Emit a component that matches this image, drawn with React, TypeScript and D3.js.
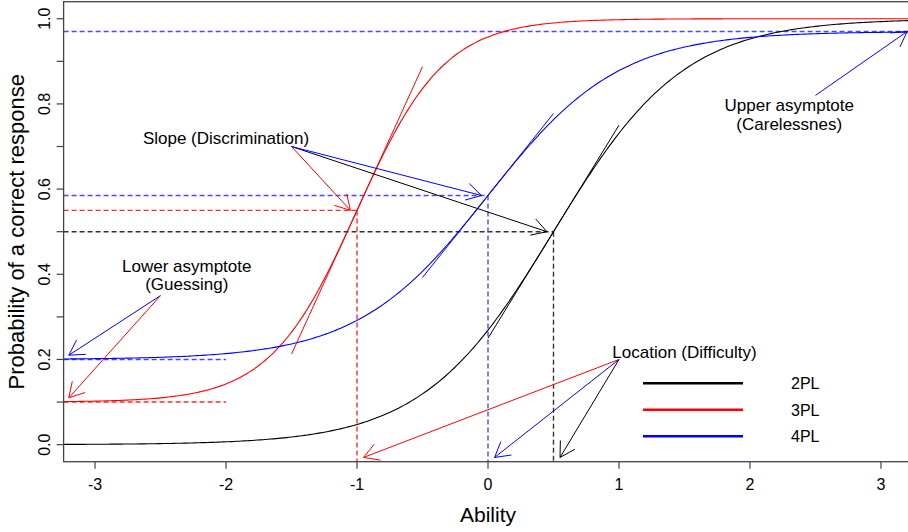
import React from "react";
import * as d3 from "d3";

// item parameters (one entry per model)
const modelNames = ["2PL", "3PL", "4PL"];
const modelColors = ["black", "red", "blue"];
const discrimination = [2, 3, 2];
const difficulty = [0.5, -1, 0];
const guessing = [0, 0.1, 0.2];
const upperAsymptote = [1, 1, 0.97];

const abilityTicks = [-3, -2, -1, 0, 1, 2, 3];
const probTicks = [0, 0.1, 0.2, 0.3, 0.4, 0.5, 0.6, 0.7, 0.8, 0.9, 1];
const probLabels = [0, 0.2, 0.4, 0.6, 0.8, 1];

// annotation texts (data coords)
const noteTexts = [
  { text: "Slope (Discrimination)", x: -2.0, y: 0.72 },
  { text: "Lower asymptote", x: -2.3, y: 0.42 },
  { text: "(Guessing)", x: -2.3, y: 0.378 },
  { text: "Upper asymptote", x: 2.3, y: 0.798 },
  { text: "(Carelessnes)", x: 2.3, y: 0.753 },
  { text: "Location (Difficulty)", x: 1.5, y: 0.218 },
];

// extra arrows that are not tied to one model's b
const lowerArrows = [
  { x0: -2.5, y0: 0.35, x1: -3.2, y1: 0.21, color: "blue" },
  { x0: -2.5, y0: 0.35, x1: -3.2, y1: 0.11, color: "red" },
];
const upperArrow = { x0: 2.5, y0: 0.82, x1: 3.2, y1: 0.97, color: "blue" };

const W = 908;
const H = 532;
const font = "'Liberation Sans', Arial, sans-serif";

// dashed guide colours (lighter, like the thin dashed lines in the original)
const dashColor: Record<string, string> = { black: "#333", red: "#ff2a2a", blue: "#4848ff" };

function irt(i: number, t: number) {
  const c = guessing[i];
  const d = upperAsymptote[i];
  return c + (d - c) / (1 + Math.exp(-discrimination[i] * (t - difficulty[i])));
}

export default function App() {
  const x = d3.scaleLinear().domain([-3.24, 3.24]).range([63.6, 912.4]);
  const y = d3.scaleLinear().domain([-0.04, 1.04]).range([461.7, 1.7]);
  const [x0, x1] = x.range();
  const [yb, yt] = y.range();

  const grid = x.ticks(400);
  const line = d3
    .line<number>()
    .x((t) => x(t))
    .curve(d3.curveLinear);

  const arrow = (
    ax: number,
    ay: number,
    bx: number,
    by: number,
    color: string,
    key: string
  ) => {
    const px0 = x(ax), py0 = y(ay), px1 = x(bx), py1 = y(by);
    const ang = Math.atan2(py1 - py0, px1 - px0);
    const len = 17;
    const a1 = ang + Math.PI - Math.PI / 6;
    const a2 = ang + Math.PI + Math.PI / 6;
    return (
      <g key={key} stroke={color} strokeWidth={1} fill="none">
        <line x1={px0} y1={py0} x2={px1} y2={py1} />
        <polyline
          points={`${px1 + len * Math.cos(a1)},${py1 + len * Math.sin(a1)} ${px1},${py1} ${px1 + len * Math.cos(a2)},${py1 + len * Math.sin(a2)}`}
        />
      </g>
    );
  };

  return (
    <svg
      width={W}
      height={H}
      style={{ position: "absolute", left: 0, top: 0, background: "white" }}
      fontFamily={font}
    >
      <defs>
        <clipPath id="plotArea">
          <rect x={x0} y={yt} width={x1 - x0} height={yb - yt} />
        </clipPath>
      </defs>

      <g clipPath="url(#plotArea)">
        {/* reference dashed lines */}
        <g strokeDasharray="5,3" strokeWidth={1.4}>
          <line
            x1={x0} x2={x1} y1={y(upperAsymptote[2])} y2={y(upperAsymptote[2])}
            stroke={dashColor.blue}
          />
          {modelNames.map((m, i) => {
            const pb = irt(i, difficulty[i]);
            return (
              <g key={"ref" + m} stroke={dashColor[modelColors[i]]}>
                <line x1={x0} x2={x(difficulty[i])} y1={y(pb)} y2={y(pb)} />
                <line x1={x(difficulty[i])} x2={x(difficulty[i])} y1={y(pb)} y2={yb} />
              </g>
            );
          })}
          {[1, 2].map((i) => (
            <line
              key={"low" + i}
              x1={x0} x2={x(-2)} y1={y(guessing[i])} y2={y(guessing[i])}
              stroke={dashColor[modelColors[i]]}
            />
          ))}
        </g>

        {/* item characteristic curves */}
        {modelNames.map((m, i) => (
          <path
            key={"icc" + m}
            d={line.y((t) => y(irt(i, t)))(grid) || ""}
            fill="none"
            stroke={modelColors[i]}
            strokeWidth={1.1}
          />
        ))}

        {/* tangents at b */}
        {modelNames.map((m, i) => {
          const slope = ((upperAsymptote[i] - guessing[i]) * discrimination[i]) / 4;
          const b = difficulty[i];
          const pb = irt(i, b);
          return (
            <line
              key={"tan" + m}
              x1={x(b - 0.5)} y1={y(pb - 0.5 * slope)}
              x2={x(b + 0.5)} y2={y(pb + 0.5 * slope)}
              stroke={modelColors[i]} strokeWidth={1}
            />
          );
        })}

        {/* arrows */}
        {modelNames.map((m, i) =>
          arrow(-1.5, 0.7, difficulty[i] - 0.05, irt(i, difficulty[i]), modelColors[i], "slope" + m)
        )}
        {modelNames.map((m, i) =>
          arrow(1, 0.2, difficulty[i] + 0.05, -0.03, modelColors[i], "loc" + m)
        )}
        {lowerArrows.map((a, i) => arrow(a.x0, a.y0, a.x1, a.y1, a.color, "lowA" + i))}
        {arrow(upperArrow.x0, upperArrow.y0, upperArrow.x1, upperArrow.y1, upperArrow.color, "upA")}
      </g>

      {/* annotation text */}
      {noteTexts.map((n) => (
        <text
          key={n.text}
          x={x(n.x)} y={y(n.y)} dy="0.35em"
          textAnchor="middle" fontSize={17} fill="black"
        >
          {n.text}
        </text>
      ))}

      {/* legend */}
      {modelNames.map((m, i) => (
        <g key={"leg" + m}>
          <line x1={643} x2={743} y1={383.3 + i * 26.5} y2={383.3 + i * 26.5} stroke={modelColors[i]} strokeWidth={2.5} />
          <text x={791} y={383.3 + i * 26.5} dy="0.36em" fontSize={16} fill="black">{m}</text>
        </g>
      ))}

      {/* frame */}
      <rect x={x0} y={yt} width={x1 - x0} height={yb - yt} fill="none" stroke="#444" strokeWidth={1.3} />

      {/* x axis */}
      {abilityTicks.map((t) => (
        <g key={"xt" + t}>
          <line x1={x(t)} x2={x(t)} y1={yb} y2={yb + 7} stroke="#444" strokeWidth={1.2} />
          <text x={x(t)} y={490} textAnchor="middle" fontSize={16} fill="black">{t}</text>
        </g>
      ))}
      <text x={x(0)} y={522} textAnchor="middle" fontSize={21} fill="black">Ability</text>

      {/* y axis */}
      {probTicks.map((t) => (
        <line key={"yt" + t} x1={x0 - 7} x2={x0} y1={y(t)} y2={y(t)} stroke="#444" strokeWidth={1.2} />
      ))}
      {probLabels.map((t) => (
        <text
          key={"yl" + t}
          transform={`translate(50,${y(t)}) rotate(-90)`}
          textAnchor="middle" fontSize={16} fill="black"
        >
          {d3.format(".1f")(t)}
        </text>
      ))}
      <text
        transform={`translate(23.5,${(yb + yt) / 2}) rotate(-90)`}
        textAnchor="middle" fontSize={22} fill="black"
      >
        Probability of a correct response
      </text>
    </svg>
  );
}
